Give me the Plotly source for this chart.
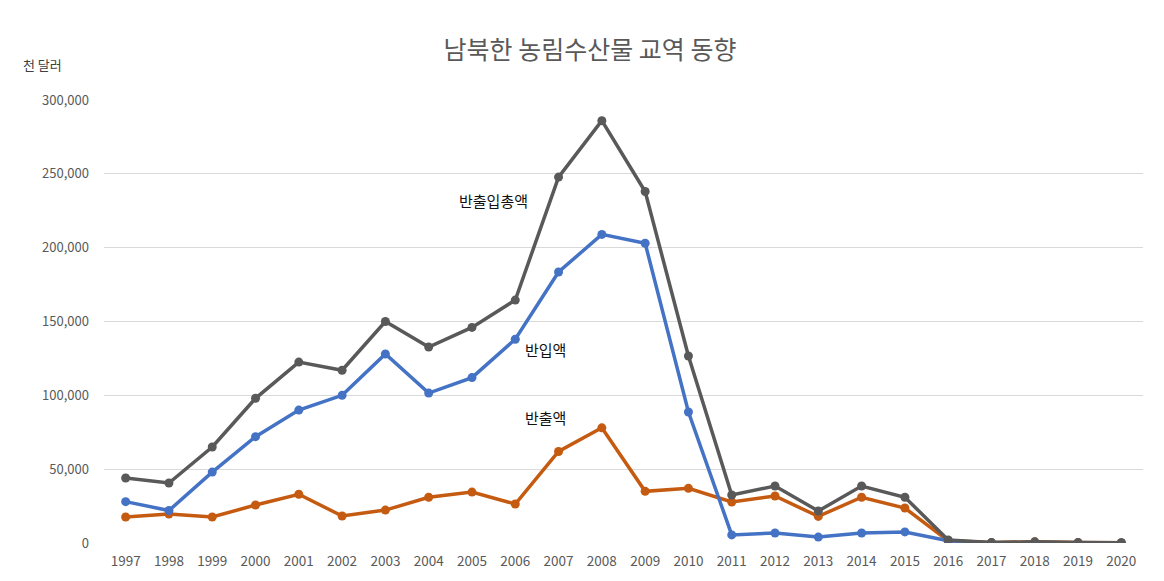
import plotly.graph_objects as go

years = list(range(1997, 2021))
total = [44000, 40600, 65000, 98000, 122500, 117000, 150000, 132700, 146000, 164500,
         247800, 286000, 238000, 126600, 32500, 38600, 21700, 38600, 31000, 2000,
         300, 800, 300, 200]
imports = [28000, 22000, 48000, 72000, 90000, 100000, 128000, 101500, 112000, 138000,
           183500, 209000, 203000, 88700, 5500, 6800, 4000, 6800, 7500, 1500,
           0, 0, 0, 0]
exports = [17600, 19600, 17600, 25700, 33000, 18300, 22300, 31000, 34500, 26400,
           62000, 78000, 35000, 37000, 27800, 31800, 18000, 31000, 23700, 1500,
           300, 800, 300, 200]
yticks = [0, 50000, 100000, 150000, 200000, 250000, 300000]

FONT = "Noto Sans CJK KR"
fig = go.Figure()
for name, vals, col in [("반출액", exports, "#C55A11"),
                        ("반입액", imports, "#4472C4"),
                        ("반출입총액", total, "#595959")]:
    fig.add_trace(go.Scatter(x=years, y=vals, name=name, mode="lines+markers",
                             line=dict(color=col, width=3.5),
                             marker=dict(color=col, size=9)))

fig.update_layout(
    width=1164, height=581,
    margin=dict(l=96, r=29, t=92, b=46),
    paper_bgcolor="white", plot_bgcolor="white",
    showlegend=False,
    font=dict(family=FONT, color="#595959"),
    title=dict(text="남북한 농림수산물 교역 동향", x=0.5, xanchor="center",
               y=0.928, yanchor="middle",
               font=dict(family=FONT, size=25, color="#595959")),
)
fig.update_xaxes(range=[1996.5, 2020.5], tickvals=years, ticktext=[str(y) for y in years],
                 showgrid=False, zeroline=False, showline=False, ticks="",
                 ticklabelstandoff=8,
                 tickfont=dict(size=13.5, color="#595959"))
fig.update_yaxes(range=[0, 300000], tickvals=yticks,
                 ticktext=[f"{v:,}" for v in yticks],
                 showgrid=True, gridcolor="#d9d9d9", gridwidth=1,
                 zeroline=False, showline=False, ticks="", ticklabelstandoff=14,
                 tickfont=dict(size=13, color="#595959"))

annots = [
    (2005.5, 232000, "반출입총액"),
    (2006.7, 131000, "반입액"),
    (2006.7, 85000, "반출액"),
]
for x, y, t in annots:
    fig.add_annotation(x=x, y=y, text=t, showarrow=False,
                       font=dict(family=FONT, size=15, color="#111111"))

fig.add_annotation(xref="paper", yref="paper", x=-0.08, y=1.105, xanchor="left",
                   text="천 달러", showarrow=False,
                   font=dict(family=FONT, size=13, color="#404040"))

fig.write_html("out.html")
